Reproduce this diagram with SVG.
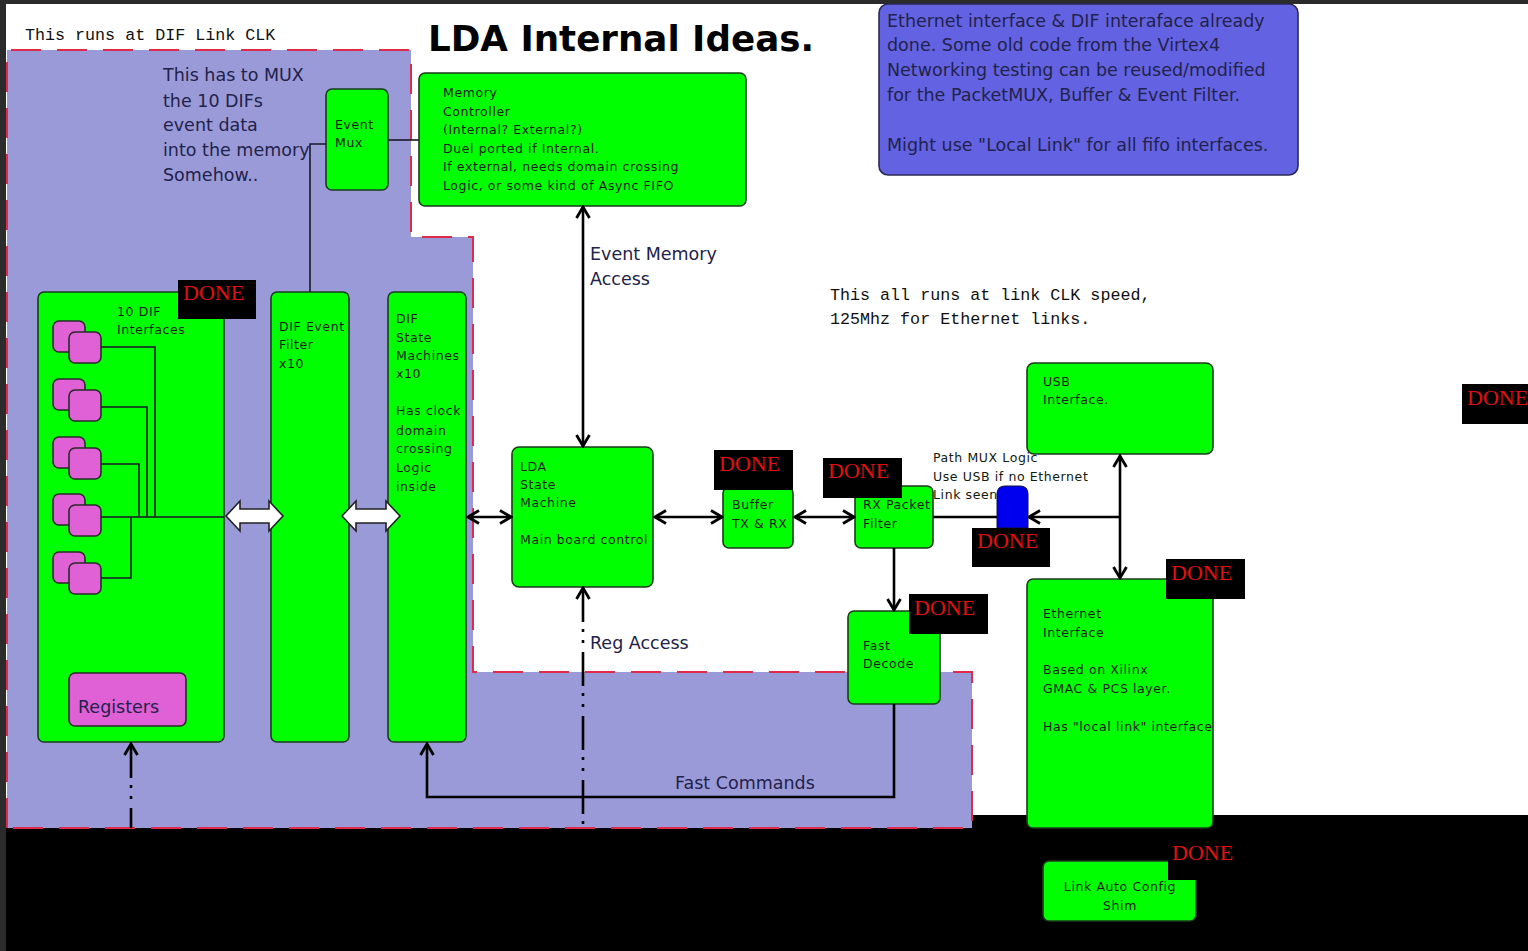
<svg xmlns="http://www.w3.org/2000/svg" width="1528" height="951" viewBox="0 0 1528 951">
<defs>
<style>
.g{fill:#00ff00;stroke:#1c3a1c;stroke-width:1.6}
.pk{fill:#e060d6;stroke:#2a2a2a;stroke-width:1.6}
.t{font-family:"DejaVu Sans",Verdana,sans-serif;font-size:12.5px;letter-spacing:0.6px;fill:#102010}
.big{font-family:"DejaVu Sans",Verdana,sans-serif;font-size:17.5px;fill:#22224a}
.mono{font-family:"Liberation Mono","Courier New",monospace;font-size:16.7px;fill:#111}
.db{fill:#000}
.dt{font-family:"Liberation Serif","Times New Roman",serif;font-size:22px;fill:#e01010}
.c{fill:none;stroke:#000;stroke-width:2.6}
.dd{stroke-dasharray:34 7 3 8 3 9}
.thin{fill:none;stroke:#1a1a2a;stroke-width:1.6}
.dash{fill:none;stroke:#e02a4a;stroke-width:2;stroke-dasharray:30 16}
.ba{fill:#fff;stroke:#222;stroke-width:1.6}
</style>
<marker id="ah" viewBox="0 0 16 16" refX="14" refY="8" markerWidth="16" markerHeight="16" markerUnits="userSpaceOnUse" orient="auto-start-reverse">
<path d="M3,1.5 L14,8 L3,14.5" fill="none" stroke="#000" stroke-width="2.8"/>
</marker>
</defs>
<rect width="1528" height="951" fill="#ffffff"/>
<rect x="0" y="815" width="1528" height="136" fill="#000"/>
<g id="clock-domain">
<polygon points="7,50 411,50 411,237 473,237 473,672 972,672 972,828 7,828" fill="#9a9ad8"/>
<polyline class="dash" points="7,828 7,50 411,50 411,237 473,237 473,672 972,672 972,828 7,828"/>
</g>
<rect x="0" y="0" width="1528" height="4" fill="#2b2b2b"/>
<rect x="0" y="0" width="6" height="951" fill="#2b2b2b"/>

<text class="mono" x="25" y="40">This runs at DIF Link CLK</text>
<text x="428" y="51" font-family="DejaVu Sans,Verdana,sans-serif" font-weight="bold" font-size="35.7" fill="#000">LDA Internal Ideas.</text>
<text class="mono" x="830" y="300">This all runs at link CLK speed,</text>
<text class="mono" x="830" y="324">125Mhz for Ethernet links.</text>
<g class="big">
<text x="163" y="81">This has to MUX</text>
<text x="163" y="107">the 10 DIFs</text>
<text x="163" y="131">event data</text>
<text x="163" y="156">into the memory</text>
<text x="163" y="181">Somehow..</text>
</g>

<g id="note">
<rect x="879" y="4" width="419" height="171" rx="9" fill="#6262e2" stroke="#2a2a55" stroke-width="1.6"/>
<g class="big" font-size="17" fill="#1a1a40">
<text x="887" y="27">Ethernet interface &amp; DIF interaface already</text>
<text x="887" y="51">done. Some old code from the Virtex4</text>
<text x="887" y="76">Networking testing can be reused/modified</text>
<text x="887" y="101">for the PacketMUX, Buffer &amp; Event Filter.</text>
<text x="887" y="151">Might use "Local Link" for all fifo interfaces.</text>
</g>
</g>

<g id="event-mux">
<rect class="g" x="326" y="89" width="62" height="101" rx="6"/>
<text class="t" x="335" y="129">Event</text>
<text class="t" x="335" y="147">Mux</text>
</g>

<g id="memory-controller">
<rect class="g" x="419" y="73" width="327" height="133" rx="6"/>
<text class="t" x="443" y="97">Memory</text>
<text class="t" x="443" y="115.5">Controller</text>
<text class="t" x="443" y="134">(Internal? External?)</text>
<text class="t" x="443" y="152.5">Duel ported if Internal.</text>
<text class="t" x="443" y="171">If external, needs domain crossing</text>
<text class="t" x="443" y="189.5">Logic, or some kind of Async FIFO</text>
</g>

<g id="dif-interfaces">
<rect class="g" x="38" y="292" width="186" height="450" rx="6"/>
<text class="t" x="117" y="316">10 DIF</text>
<text class="t" x="117" y="334">Interfaces</text>
<rect class="pk" x="53" y="321" width="32" height="31" rx="6"/>
<rect class="pk" x="69" y="332" width="32" height="31" rx="6"/>
<rect class="pk" x="53" y="379" width="32" height="31" rx="6"/>
<rect class="pk" x="69" y="390" width="32" height="31" rx="6"/>
<rect class="pk" x="53" y="437" width="32" height="31" rx="6"/>
<rect class="pk" x="69" y="448" width="32" height="31" rx="6"/>
<rect class="pk" x="53" y="494" width="32" height="31" rx="6"/>
<rect class="pk" x="69" y="505" width="32" height="31" rx="6"/>
<rect class="pk" x="53" y="552" width="32" height="31" rx="6"/>
<rect class="pk" x="69" y="563" width="32" height="31" rx="6"/>
<rect class="pk" x="69" y="673" width="117" height="53" rx="6"/>
<text class="big" x="78" y="713" fill="#3a1040">Registers</text>
</g>

<g id="dif-event-filter">
<rect class="g" x="271" y="292" width="78" height="450" rx="6"/>
<text class="t" x="279" y="331">DIF Event</text>
<text class="t" x="279" y="349">Filter</text>
<text class="t" x="279" y="368">x10</text>
</g>

<g id="dif-state-machines">
<rect class="g" x="388" y="292" width="78" height="450" rx="6"/>
<text class="t" x="396" y="323">DIF</text>
<text class="t" x="396" y="342">State</text>
<text class="t" x="396" y="360">Machines</text>
<text class="t" x="396" y="378">x10</text>
<text class="t" x="396" y="415">Has clock</text>
<text class="t" x="396" y="435">domain</text>
<text class="t" x="396" y="453">crossing</text>
<text class="t" x="396" y="472">Logic</text>
<text class="t" x="396" y="491">inside</text>
</g>

<g id="lda-state-machine">
<rect class="g" x="512" y="447" width="141" height="140" rx="7"/>
<text class="t" x="520" y="471">LDA</text>
<text class="t" x="520" y="489">State</text>
<text class="t" x="520" y="507">Machine</text>
<text class="t" x="520" y="544">Main board control</text>
</g>

<g id="buffer">
<rect class="g" x="723" y="487" width="70" height="61" rx="6"/>
<text class="t" x="732" y="509">Buffer</text>
<text class="t" x="732" y="528">TX &amp; RX</text>
</g>

<g id="rx-packet-filter">
<rect class="g" x="855" y="486" width="78" height="62" rx="6"/>
<text class="t" x="863" y="509">RX Packet</text>
<text class="t" x="863" y="528">Filter</text>
</g>

<g id="path-mux">
<path d="M997,528 V494 Q997,486 1005,486 H1020 Q1028,486 1028,494 V528 Z" fill="#0000ee" stroke="#101040" stroke-width="1"/>
<text class="t" x="933" y="462" letter-spacing="0.3">Path MUX Logic</text>
<text class="t" x="933" y="481" letter-spacing="0.3">Use USB if no Ethernet</text>
<text class="t" x="933" y="499" letter-spacing="0.3">Link seen</text>
</g>

<g id="usb">
<rect class="g" x="1027" y="363" width="186" height="91" rx="7"/>
<text class="t" x="1043" y="386">USB</text>
<text class="t" x="1043" y="404">Interface.</text>
</g>

<g id="ethernet">
<rect class="g" x="1027" y="579" width="186" height="249" rx="6"/>
<text class="t" x="1043" y="618">Ethernet</text>
<text class="t" x="1043" y="637">Interface</text>
<text class="t" x="1043" y="674">Based on Xilinx</text>
<text class="t" x="1043" y="693">GMAC &amp; PCS layer.</text>
<text class="t" x="1043" y="731">Has "local link" interface</text>
</g>

<g id="fast-decode">
<rect class="g" x="848" y="611" width="92" height="93" rx="6"/>
<text class="t" x="863" y="650">Fast</text>
<text class="t" x="863" y="668">Decode</text>
</g>

<g id="link-auto-config">
<rect class="g" x="1043" y="861" width="153" height="60" rx="6" stroke="none"/>
<text class="t" x="1120" y="891" text-anchor="middle" letter-spacing="0.3">Link Auto Config</text>
<text class="t" x="1120" y="910" text-anchor="middle" letter-spacing="0.3">Shim</text>
</g>

<g id="connectors">
<path class="thin" d="M388,140 H419"/>
<path class="thin" d="M326,144 H310 V292"/>
<path class="thin" d="M101,347 H155 V517 M101,407 H147 V517 M101,464 H139 V517 M101,578 H131 V517 M101,517 H224"/>
<path class="ba" d="M226,516 L240,501 L240,509 L269,509 L269,501 L283,516 L269,531 L269,523 L240,523 L240,531 Z"/>
<path class="ba" d="M342,516 L356,501 L356,509 L386,509 L386,501 L400,516 L386,531 L386,523 L356,523 L356,531 Z"/>
<line class="c" x1="468" y1="517" x2="511" y2="517" marker-start="url(#ah)" marker-end="url(#ah)"/>
<line class="c" x1="583" y1="207" x2="583" y2="446" marker-start="url(#ah)" marker-end="url(#ah)"/>
<line class="c dd" x1="583" y1="588" x2="583" y2="828" marker-start="url(#ah)"/>
<line class="c dd" x1="131" y1="744" x2="131" y2="828" marker-start="url(#ah)"/>
<line class="c" x1="655" y1="517" x2="722" y2="517" marker-start="url(#ah)" marker-end="url(#ah)"/>
<line class="c" x1="795" y1="517" x2="854" y2="517" marker-start="url(#ah)" marker-end="url(#ah)"/>
<line class="c" x1="933" y1="517" x2="997" y2="517" stroke-width="1.6"/>
<line class="c" x1="1120" y1="517" x2="1029" y2="517" marker-end="url(#ah)"/>
<line class="c" x1="1120" y1="456" x2="1120" y2="578" marker-start="url(#ah)" marker-end="url(#ah)"/>
<line class="c" x1="894" y1="548" x2="894" y2="610" marker-end="url(#ah)"/>
<path class="c" d="M894,704 V797 H427 V744" stroke="#111" marker-end="url(#ah)"/>
<text class="big" x="590" y="260">Event Memory</text>
<text class="big" x="590" y="285">Access</text>
<text class="big" x="590" y="649">Reg Access</text>
<text class="big" x="675" y="789">Fast Commands</text>
</g>

<g id="done-labels">
<rect class="db" x="178" y="280" width="78" height="39"/>
<text class="dt" x="183" y="300">DONE</text>
<rect class="db" x="714" y="450" width="79" height="40"/>
<text class="dt" x="719" y="471">DONE</text>
<rect class="db" x="823" y="458" width="79" height="40"/>
<text class="dt" x="828" y="478">DONE</text>
<rect class="db" x="972" y="528" width="78" height="39"/>
<text class="dt" x="977" y="548">DONE</text>
<rect class="db" x="1166" y="559" width="79" height="40"/>
<text class="dt" x="1171" y="580">DONE</text>
<rect class="db" x="909" y="594" width="79" height="40"/>
<text class="dt" x="914" y="615">DONE</text>
<rect class="db" x="1168" y="838" width="77" height="42"/>
<text class="dt" x="1172" y="860">DONE</text>
<rect class="db" x="1462" y="384" width="66" height="40"/>
<text class="dt" x="1467" y="405">DONE</text>
</g>
</svg>
